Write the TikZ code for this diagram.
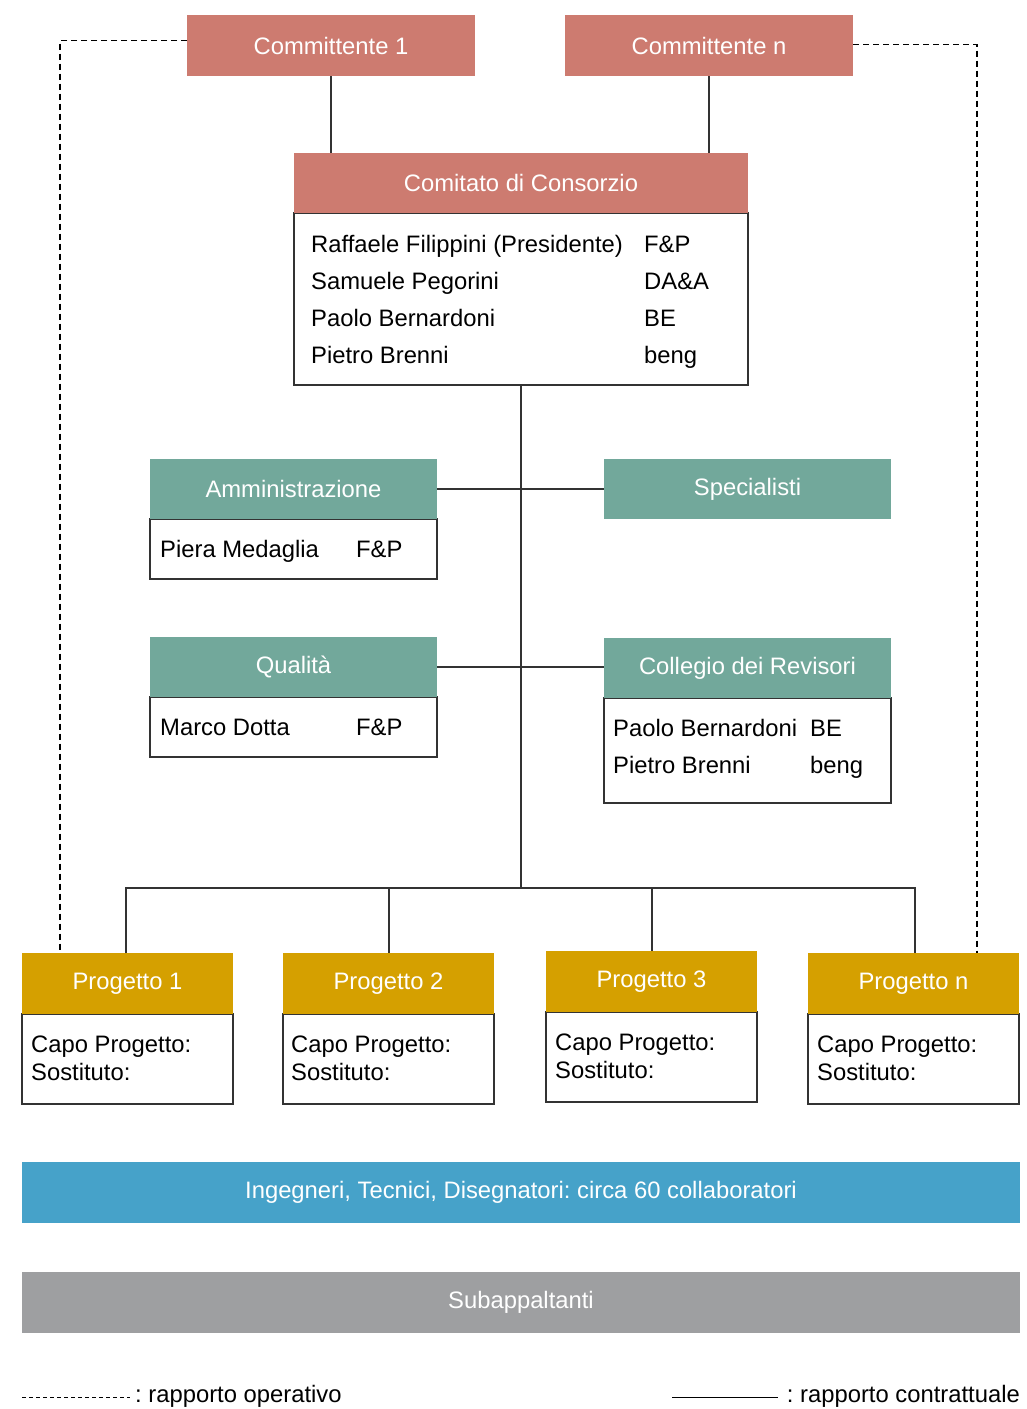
\documentclass[tikz,border=0pt]{standalone}
\usepackage{fontspec}
\setmainfont{Liberation Sans}
\frenchspacing
\definecolor{cred}{HTML}{CD7B70}
\definecolor{cgreen}{HTML}{72A89B}
\definecolor{cgold}{HTML}{D5A000}
\definecolor{cblue}{HTML}{46A2C9}
\definecolor{cgray}{HTML}{9E9FA1}
\definecolor{cline}{HTML}{333333}
\begin{document}
\begin{tikzpicture}[x=1pt,y=-1pt,
  box/.style={anchor=north west, inner sep=0pt, outer sep=0pt},
  hdr/.style={box, text=white, font=\fontsize{23.8}{28}\selectfont},
  hred/.style={hdr, fill=cred, minimum width=288pt, minimum height=61pt},
  hgreen/.style={hdr, fill=cgreen, minimum width=287pt, minimum height=60pt},
  hgold/.style={hdr, fill=cgold, minimum width=211pt, minimum height=61pt},
  hband/.style={hdr, minimum width=998pt, minimum height=61pt},
  bodybox/.style={box, draw=cline, line width=1.3pt, fill=white},
  txt/.style={anchor=base west, inner sep=0pt, font=\fontsize{23.8}{28}\selectfont, text=black},
  conn/.style={draw=cline, line width=1.3pt},
  opline/.style={draw=black, line width=1.2pt, dash pattern=on 6pt off 4pt},
]
\useasboundingbox[fill=white] (0,0) rectangle (1027,1409);

% Committenti
\node[hred] (c1) at (187,15) {Committente 1};
\node[hred] (cn) at (565,15) {Committente n};

% Comitato
\node[bodybox, minimum width=454pt, minimum height=172pt] (comb) at (294,213) {};
\node[hred, minimum width=454pt, minimum height=60pt] (comh) at (294,153) {Comitato di Consorzio};
\node[txt] (r1a) at (311,252) {Raffaele Filippini (Presidente)};
\node[txt] (r1b) at (644,252) {F\&P};
\node[txt] (r2a) at (311,289) {Samuele Pegorini};
\node[txt] (r2b) at (644,289) {DA\&A};
\node[txt] (r3a) at (311,326) {Paolo Bernardoni};
\node[txt] (r3b) at (644,326) {BE};
\node[txt] (r4a) at (311,363) {Pietro Brenni};
\node[txt] (r4b) at (644,363) {beng};

% Amministrazione
\node[bodybox, minimum width=287pt, minimum height=60pt] (amb) at (150,519) {};
\node[hgreen] (amh) at (150,459) {Amministrazione};
\node[txt] (am1) at (160,557) {Piera Medaglia};
\node[txt] (am2) at (356,557) {F\&P};

% Specialisti
\node[hgreen] (sp) at (604,459) {Specialisti};

% Qualita
\node[bodybox, minimum width=287pt, minimum height=60pt] (qub) at (150,697) {};
\node[hgreen] (quh) at (150,637) {Qualità};
\node[txt] (qu1) at (160,735) {Marco Dotta};
\node[txt] (qu2) at (356,735) {F\&P};

% Collegio
\node[bodybox, minimum width=287pt, minimum height=105pt] (cob) at (604,698) {};
\node[hgreen] (coh) at (604,638) {Collegio dei Revisori};
\node[txt] (co1) at (613,736) {Paolo Bernardoni};
\node[txt] (co2) at (810,736) {BE};
\node[txt] (co3) at (613,773) {Pietro Brenni};
\node[txt] (co4) at (810,773) {beng};

% Progetti
\node[bodybox, minimum width=211pt, minimum height=90pt] (p1b) at (22,1014) {};
\node[hgold] (p1h) at (22,953) {Progetto 1};
\node[txt] (p1t1) at (31,1052) {Capo Progetto:};
\node[txt] (p1t2) at (31,1080) {Sostituto:};

\node[bodybox, minimum width=211pt, minimum height=90pt] (p2b) at (283,1014) {};
\node[hgold] (p2h) at (283,953) {Progetto 2};
\node[txt] (p2t1) at (291,1052) {Capo Progetto:};
\node[txt] (p2t2) at (291,1080) {Sostituto:};

\node[bodybox, minimum width=211pt, minimum height=90pt] (p3b) at (546,1012) {};
\node[hgold] (p3h) at (546,951) {Progetto 3};
\node[txt] (p3t1) at (555,1050) {Capo Progetto:};
\node[txt] (p3t2) at (555,1078) {Sostituto:};

\node[bodybox, minimum width=211pt, minimum height=90pt] (pnb) at (808,1014) {};
\node[hgold] (pnh) at (808,953) {Progetto n};
\node[txt] (pnt1) at (817,1052) {Capo Progetto:};
\node[txt] (pnt2) at (817,1080) {Sostituto:};

% Bands
\node[hband, fill=cblue] (ing) at (22,1162) {Ingegneri, Tecnici, Disegnatori: circa 60 collaboratori};
\node[hband, fill=cgray] (sub) at (22,1272) {Subappaltanti};

% Connectors (contractual)
\coordinate (bus) at (521,888);
\draw[conn] (c1.south -| 331,0) -- (comh.north -| 331,0);
\draw[conn] (cn.south -| 709,0) -- (comh.north -| 709,0);
\draw[conn] (comb.south -| bus) -- (bus);
\draw[conn] (amh.east) -- (sp.west);
\draw[conn] (quh.east) -- (quh.east -| coh.west);
\draw[conn] (p1h.north -| 126,0) -- (126,888) -- (915,888) -- (pnh.north -| 915,0);
\draw[conn] (389,888) -- (p2h.north -| 389,0);
\draw[conn] (652,888) -- (p3h.north -| 652,0);

% Dashed (operational)
\coordinate (dl) at (60,953);
\coordinate (dr) at (977,953);
\draw[opline] ([yshift=5pt]c1.west) -| (dl);
\draw[opline] ([yshift=1pt]cn.east) -| (dr);

% Legend
\coordinate (lg1a) at (22,1397);
\coordinate (lg1b) at (130,1397);
\coordinate (lg2a) at (672,1397);
\coordinate (lg2b) at (778,1397);
\draw[black, line width=1pt, dash pattern=on 4pt off 3pt] (lg1a) -- (lg1b);
\draw[black, line width=1pt] (lg2a) -- (lg2b);
\node[txt] (lgt1) at (135,1402) {: rapporto operativo};
\node[txt, anchor=base east] (lgt2) at (1020,1402) {: rapporto contrattuale};
\end{tikzpicture}
\end{document}
